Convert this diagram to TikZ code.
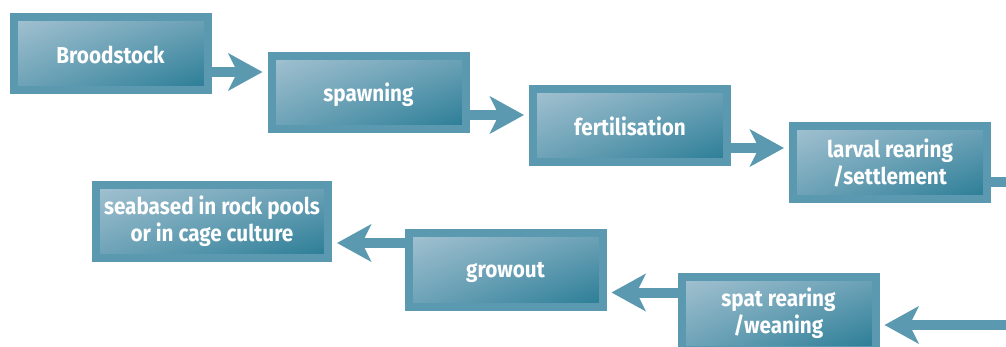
\documentclass[tikz,border=0pt]{standalone}
\usepackage{fontspec}
\setmainfont{Fira Sans}[FakeStretch=0.9]
\usetikzlibrary{arrows.meta,shadings}
\definecolor{tealframe}{HTML}{5A99B0}
\definecolor{teallight}{HTML}{A3C2D1}
\definecolor{tealdark}{HTML}{287C95}
\definecolor{tealmid}{HTML}{6DA2B7}
\tikzset{
  stage/.style={draw=tealframe, line width=8pt,
    upper left=teallight, lower right=tealdark,
    upper right=tealmid, lower left=tealmid,
    text=white, font=\bfseries\fontsize{23}{27}\selectfont,
    align=center, inner sep=0pt,
    minimum width=194pt, minimum height=73pt},
  oneline/.style={text depth=0pt},
  flow/.style={draw=tealframe, line width=10pt,
    -{Stealth[length=34pt,width=37pt,inset=9pt]}, shorten >=5pt}
}
\begin{document}
\begin{tikzpicture}[x=1pt,y=-1pt]
\useasboundingbox (0,0) rectangle (1006,347);
\clip (0,0) rectangle (1006,347);
\node[stage, oneline] (b1) at (110.5,53.5) {\raisebox{-2pt}{Broodstock}};
\node[stage, oneline] (b2) at (368.5,92.5) {spawning};
\node[stage, oneline] (b3) at (630,126) {fertilisation};
\node[stage] (b4) at (890,162.5) {larval rearing\\/settlement};
\node[stage, minimum width=232pt] (b5) at (212,221.5) {seabased in rock pools\\or in cage culture};
\node[stage, oneline] (b6) at (505.5,270) {growout};
\node[stage] (b7) at (778.5,313.5) {spat rearing\\/weaning};
\coordinate (r1) at (1040,182);
\coordinate (r2) at (1040,325);
\draw[flow] (b1.east |- 0,72) -- (b2.west |- 0,72);
\draw[flow] (b2.east |- 0,115) -- (b3.west |- 0,115);
\draw[flow] (b3.east |- 0,148) -- (b4.west |- 0,148);
\draw[flow] (b4.east |- r1) -- (r1) -- (r2) -- (b7.east |- r2);
\draw[flow] (b7.west |- 0,292.5) -- (b6.east |- 0,292.5);
\draw[flow] (b6.west |- 0,243) -- (b5.east |- 0,243);
\end{tikzpicture}
\end{document}
